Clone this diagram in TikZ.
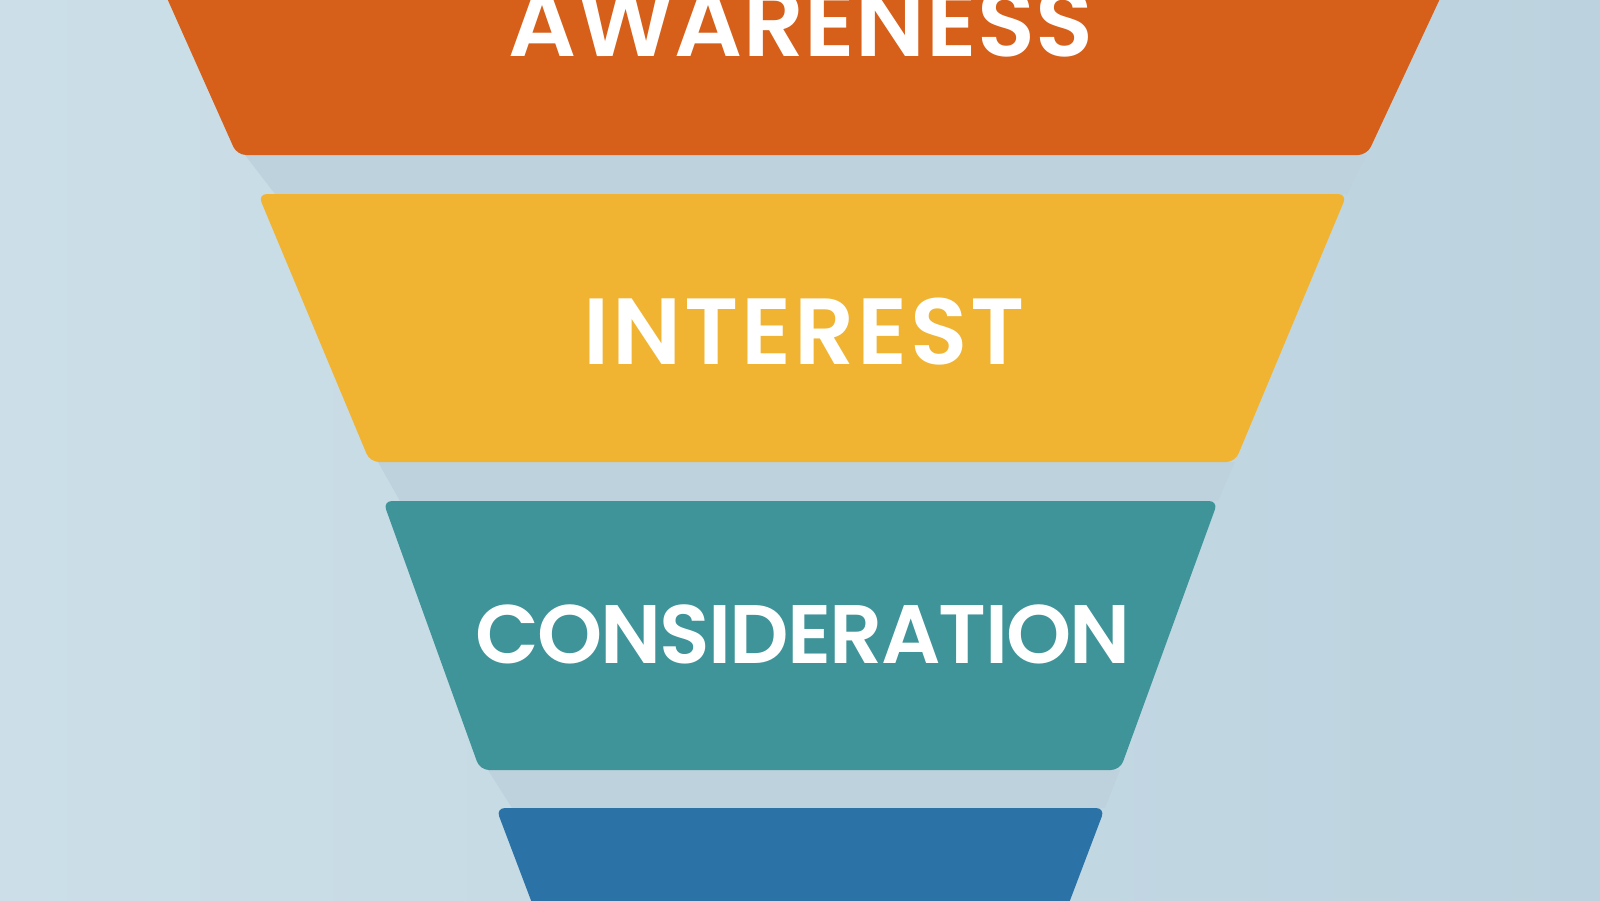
\documentclass[tikz,border=0pt]{standalone}
\usepackage{fontspec}
\setmainfont{Poppins}[BoldFont={Poppins SemiBold}]
\begin{document}
\begin{tikzpicture}[x=1pt,y=-1pt,
  seg/.style={rounded corners=9pt},
  gapshade/.style={fill=shadowc},
  lbl/.style={text=white,anchor=base,inner sep=0pt,font=\bfseries}]
\definecolor{bgl}{HTML}{CCDFE8}
\definecolor{bgr}{HTML}{BCD3DF}
\definecolor{shadowc}{HTML}{BDD2DD}
\definecolor{c1}{HTML}{D65F1A}
\definecolor{c2}{HTML}{F0B432}
\definecolor{c3}{HTML}{3E9498}
\definecolor{c4}{HTML}{2B72A6}
\useasboundingbox (0,0) rectangle (1600,900);
\clip (0,0) rectangle (1600,900);
\shade[left color=bgl,right color=bgr] (0,0) rectangle (1600,900);
% shadows in the gaps
\fill[gapshade] (245,155) -- (275,194) -- (1347,194) -- (1367,155) -- cycle;
\fill[gapshade] (378,462) -- (400,501) -- (1218,501) -- (1235,462) -- cycle;
\fill[gapshade] (488,770) -- (512,808) -- (1105,808) -- (1120,770) -- cycle;
% segments
\fill[c1,seg] (150,-40) -- (237,155) -- (1367,155) -- (1458,-40) -- cycle;
\fill[c2,seg] (258,194) -- (1347,194) -- (1235,462) -- (370,462) -- cycle;
\fill[c3,seg] (383,501) -- (1218,501) -- (1120,770) -- (480,770) -- cycle;
\fill[c4,seg] (496,808) -- (1105,808) -- (1055,940) -- (546,940) -- cycle;
% labels
\node[lbl,font=\bfseries\fontsize{95}{100}\selectfont\addfontfeatures{LetterSpace=0.5}] (awareness) at (801,56) {AWARENESS};
\node[lbl,font=\bfseries\fontsize{94}{100}\selectfont\addfontfeatures{LetterSpace=3}] (interest) at (804,364) {INTEREST};
\node[lbl,font=\bfseries\fontsize{83}{90}\selectfont\addfontfeatures{LetterSpace=-2.2}] (consideration) at (803,663) {CONSIDERATION};
\end{tikzpicture}
\end{document}
